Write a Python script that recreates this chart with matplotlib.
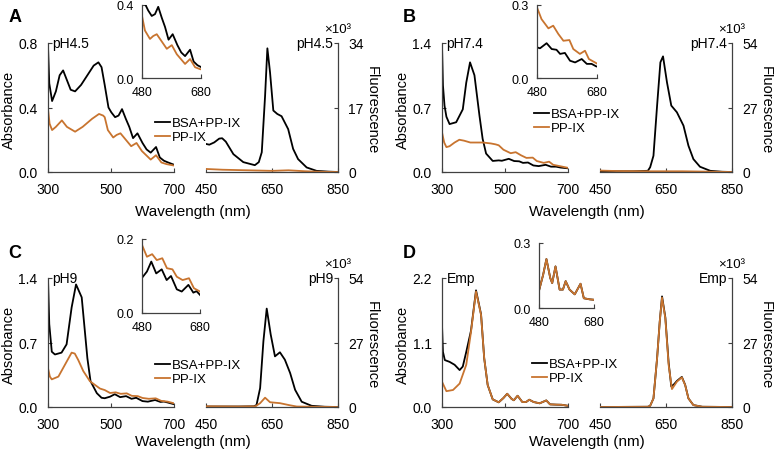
import matplotlib
matplotlib.use("Agg")
import matplotlib.pyplot as plt

plt.rcParams["font.family"] = ["Liberation Sans", "DejaVu Sans"]

W, H = 774, 452
BLACK = "#000000"
ORANGE = "#C8742F"
SPINE = "#404040"

# ── data ────────────────────────────────────────────────────────────────────
# panel A, pH4.5
absA_wl_blk = [300, 304, 313, 325, 337, 348, 360, 372, 386, 405, 425, 445, 460, 470, 480, 492,
               501, 513, 524, 535, 547, 558, 570, 584, 600, 613, 626, 643, 655, 668, 680, 700]
absA_blk = [0.78, 0.55, 0.44, 0.50, 0.60, 0.63, 0.57, 0.51, 0.50, 0.54, 0.60, 0.66, 0.68, 0.65, 0.54, 0.40,
            0.37, 0.34, 0.35, 0.39, 0.33, 0.28, 0.21, 0.24, 0.18, 0.14, 0.12, 0.155, 0.09, 0.07, 0.06, 0.045]
absA_wl_org = [300, 305, 313, 325, 344, 360, 386, 410, 440, 462, 475, 480, 490, 507, 518, 530,
               547, 564, 581, 598, 626, 643, 660, 676, 700]
absA_org = [0.39, 0.30, 0.26, 0.28, 0.32, 0.28, 0.25, 0.28, 0.33, 0.36, 0.35, 0.34, 0.26, 0.214, 0.23, 0.24,
            0.20, 0.16, 0.18, 0.13, 0.077, 0.104, 0.059, 0.049, 0.04]
flA_wl_blk = [450, 460, 475, 490, 499, 510, 533, 563, 598, 610, 619, 629, 636, 644, 654, 666,
              679, 699, 714, 729, 755, 785, 820, 850]
flA_blk = [7.4, 7.2, 7.8, 8.8, 8.9, 8.0, 4.7, 2.6, 1.8, 2.6, 5.2, 20.0, 32.6, 26.3, 16.2, 15.3,
           14.7, 11.3, 6.1, 3.4, 1.2, 0.3, 0.1, 0.0]
flA_wl_org = [450, 500, 550, 600, 650, 700, 750, 800, 850]
flA_org = [0.8, 0.6, 0.5, 0.4, 0.3, 0.45, 0.2, 0.05, 0.0]

# panel B, pH7.4
absB_wl_blk = [300, 303, 308, 314, 324, 345, 366, 377, 389, 403, 419, 429, 440, 461, 480, 490,
               512, 529, 545, 557, 573, 590, 607, 629, 646, 662, 677, 700]
absB_blk = [1.37, 0.94, 0.72, 0.60, 0.52, 0.54, 0.68, 0.97, 1.19, 1.05, 0.61, 0.36, 0.20, 0.12, 0.126, 0.122,
            0.143, 0.119, 0.116, 0.099, 0.103, 0.071, 0.064, 0.078, 0.058, 0.058, 0.048, 0.04]
absB_wl_org = [300, 307, 314, 324, 340, 355, 370, 390, 430, 455, 470, 480, 495, 518, 534, 551,
               568, 588, 601, 623, 640, 653, 679, 700]
absB_org = [0.43, 0.32, 0.27, 0.28, 0.32, 0.35, 0.34, 0.32, 0.32, 0.31, 0.30, 0.29, 0.242, 0.204, 0.215, 0.181,
            0.153, 0.156, 0.119, 0.099, 0.112, 0.078, 0.060, 0.045]
flB_wl_blk = [450, 550, 595, 602, 612, 623, 633, 641, 653, 666, 683, 703, 718, 733, 753, 784, 820, 850]
flB_blk = [0.3, 0.3, 0.5, 2.0, 6.8, 27.8, 45.9, 48.4, 37.5, 27.8, 25.0, 19.4, 11.0, 5.4, 2.2, 0.5, 0.1, 0.0]
flB_wl_org = [450, 500, 600, 650, 700, 750, 800, 850]
flB_org = [0.6, 0.4, 0.3, 0.3, 0.3, 0.2, 0.1, 0.0]

# panel C, pH9
absC_wl_blk = [300, 304, 312, 322, 343, 359, 375, 389, 407, 425, 435, 455, 470, 480, 497, 512,
               529, 548, 565, 580, 600, 617, 640, 657, 668, 680, 700]
absC_blk = [1.39, 0.90, 0.60, 0.57, 0.59, 0.68, 1.08, 1.33, 1.19, 0.53, 0.28, 0.15, 0.10, 0.095, 0.112, 0.139,
            0.107, 0.118, 0.089, 0.100, 0.064, 0.058, 0.076, 0.055, 0.059, 0.049, 0.03]
absC_wl_org = [300, 306, 312, 333, 354, 375, 385, 396, 412, 433, 465, 480, 497, 515, 531, 550,
               566, 585, 600, 620, 642, 659, 680, 700]
absC_org = [0.42, 0.33, 0.30, 0.33, 0.46, 0.59, 0.58, 0.51, 0.39, 0.28, 0.20, 0.184, 0.152, 0.159, 0.143, 0.148,
            0.121, 0.118, 0.098, 0.089, 0.094, 0.067, 0.058, 0.04]
flC_wl_blk = [450, 550, 595, 603, 614, 624, 634, 646, 659, 674, 689, 705, 720, 740, 770, 810, 850]
flC_blk = [0.2, 0.2, 0.3, 0.8, 7.9, 27.6, 41.2, 30.4, 21.2, 22.9, 19.8, 14.2, 7.2, 2.2, 0.5, 0.1, 0.0]
flC_wl_org = [450, 550, 600, 614, 629, 644, 674, 705, 725, 780, 850]
flC_org = [0.3, 0.2, 0.3, 1.6, 3.9, 2.0, 1.6, 0.7, 0.2, 0.1, 0.0]

# panel D, Emp
absD_wl_blk = [300, 303, 309, 324, 340, 356, 366, 377, 392, 408, 424, 434, 445, 461, 480, 495,
               507, 521, 528, 540, 555, 567, 577, 591, 610, 631, 643, 664, 680, 700]
absD_blk = [1.40, 0.94, 0.80, 0.77, 0.72, 0.63, 0.69, 0.94, 1.30, 1.99, 1.58, 0.83, 0.375, 0.13, 0.08, 0.153,
            0.226, 0.138, 0.115, 0.192, 0.085, 0.085, 0.124, 0.085, 0.063, 0.112, 0.045, 0.04, 0.038, 0.02]
absD_wl_org = [300, 314, 335, 356, 377, 392, 408, 424, 434, 445, 461, 480, 495, 507, 521, 528,
               540, 555, 567, 577, 591, 610, 631, 643, 664, 680, 700]
absD_org = [0.43, 0.27, 0.29, 0.40, 0.72, 1.28, 1.97, 1.57, 0.83, 0.375, 0.13, 0.08, 0.153, 0.226, 0.138, 0.115,
            0.192, 0.085, 0.085, 0.124, 0.085, 0.063, 0.112, 0.045, 0.04, 0.038, 0.02]
flD_wl_blk = [450, 595, 602, 612, 623, 631, 638, 648, 658, 666, 675, 683, 698, 708, 718, 733, 760, 850]
flD_blk = [0.0, 0.1, 0.5, 3.6, 20.4, 35.7, 46.3, 37.5, 18.5, 8.6, 9.6, 10.9, 12.6, 9.3, 3.6, 0.8, 0.1, 0.0]
flD_wl_org = [450, 595, 602, 612, 623, 631, 638, 648, 658, 668, 683, 698, 708, 718, 733, 760, 850]
flD_org = [0.0, 0.1, 0.5, 3.6, 20.4, 35.7, 45.8, 37.1, 17.6, 7.5, 10.6, 12.4, 9.2, 3.6, 0.8, 0.1, 0.0]


def rect(x0, y0, x1, y1):
    return [x0 / W, 1 - y1 / H, (x1 - x0) / W, (y1 - y0) / H]


def fpos(x, y):
    return x / W, 1 - y / H


def style(ax, left=True, size=10, pad=7.5):
    for s in ax.spines.values():
        s.set_color(SPINE)
        s.set_linewidth(0.9)
    ax.spines["top"].set_visible(False)
    ax.spines["right" if left else "left"].set_visible(False)
    ax.tick_params(direction="in", length=3, width=0.8, color=SPINE,
                   labelsize=size, pad=pad)
    if not left:
        ax.yaxis.tick_right()
    ax.patch.set_alpha(0)


panels = [
    dict(tag="A", cond="pH4.5", dx=0, dy=0, inset=(142, 6, 201, 79), leg=(155, 118),
         absx=(absA_wl_blk, absA_blk, absA_wl_org, absA_org),
         flx=(flA_wl_blk, flA_blk, flA_wl_org, flA_org),
         ytop=0.8, yt=["0.0", "0.4", "0.8"], ftop=34, itop=0.4, it=["0.0", "0.4"]),
    dict(tag="B", cond="pH7.4", dx=394, dy=0, inset=(537, 6, 597, 79), leg=(534, 109),
         absx=(absB_wl_blk, absB_blk, absB_wl_org, absB_org),
         flx=(flB_wl_blk, flB_blk, flB_wl_org, flB_org),
         ytop=1.4, yt=["0.0", "0.7", "1.4"], ftop=54, itop=0.3, it=["0.0", "0.3"]),
    dict(tag="C", cond="pH9", dx=0, dy=235, inset=(142, 240, 200, 314), leg=(155, 360),
         absx=(absC_wl_blk, absC_blk, absC_wl_org, absC_org),
         flx=(flC_wl_blk, flC_blk, flC_wl_org, flC_org),
         ytop=1.4, yt=["0.0", "0.7", "1.4"], ftop=54, itop=0.2, it=["0.0", "0.2"]),
    dict(tag="D", cond="Emp", dx=394, dy=235, inset=(539, 244, 594, 309), leg=(532, 359),
         absx=(absD_wl_blk, absD_blk, absD_wl_org, absD_org),
         flx=(flD_wl_blk, flD_blk, flD_wl_org, flD_org),
         ytop=2.2, yt=["0.0", "1.1", "2.2"], ftop=54, itop=0.3, it=["0.0", "0.3"]),
]

fig = plt.figure(figsize=(W / 100, H / 100), dpi=100)

for p in panels:
    dx, dy = p["dx"], p["dy"]
    wb, yb, wo, yo = p["absx"]

    # absorbance
    ax = fig.add_axes(rect(48 + dx, 44 + dy, 174 + dx, 173 + dy))
    style(ax, left=True)
    l1, = ax.plot(wb, yb, color=BLACK, lw=1.3, label="BSA+PP-IX")
    l2, = ax.plot(wo, yo, color=ORANGE, lw=1.3, label="PP-IX")
    ax.set_xlim(300, 700)
    ax.set_ylim(0, p["ytop"])
    ax.set_xticks([300, 500, 700])
    ax.set_yticks([0, p["ytop"] / 2, p["ytop"]])
    ax.set_yticklabels(p["yt"])
    ax.text(0.035, 1.0, p["cond"], transform=ax.transAxes, ha="left", va="center", fontsize=10)

    lx, ly = p["leg"]
    ax.legend(handles=[l1, l2], loc="upper left", frameon=False, fontsize=9.5,
              bbox_to_anchor=fpos(lx, ly), bbox_transform=fig.transFigure,
              borderpad=0, borderaxespad=0, handlelength=1.1, handletextpad=0.2, labelspacing=0.15)

    # inset
    x0, y0, x1, y1 = p["inset"]
    axi = fig.add_axes(rect(x0, y0, x1, y1))
    style(axi, left=True, size=9, pad=6)
    axi.plot(wb, yb, color=BLACK, lw=1.3)
    axi.plot(wo, yo, color=ORANGE, lw=1.3)
    axi.set_xlim(480, 680)
    axi.set_ylim(0, p["itop"])
    axi.set_xticks([480, 680])
    axi.set_yticks([0, p["itop"]])
    axi.set_yticklabels(p["it"])

    # fluorescence
    fb, fyb, fo, fyo = p["flx"]
    axf = fig.add_axes(rect(206 + dx, 44 + dy, 338 + dx, 173 + dy))
    style(axf, left=False)
    axf.plot(fb, fyb, color=BLACK, lw=1.3)
    axf.plot(fo, fyo, color=ORANGE, lw=1.3)
    axf.set_xlim(450, 850)
    axf.set_ylim(0, p["ftop"])
    axf.set_xticks([450, 650, 850])
    axf.set_yticks([0, p["ftop"] / 2, p["ftop"]])
    axf.set_yticklabels(["0", f"{p['ftop'] // 2}", f"{p['ftop']}"])
    axf.text(0.965, 1.0, p["cond"], transform=axf.transAxes, ha="right", va="center", fontsize=10)
    axf.text(1.0, 1.11, "×10³", transform=axf.transAxes, ha="center", va="center", fontsize=9.5)

    # axis titles
    fig.text(*fpos(9 + dx, 110 + dy), "Absorbance", rotation=90, ha="center", va="center",
             fontsize=10.5)
    fig.text(*fpos(372 + dx, 110 + dy), "Fluorescence", rotation=-90, ha="center", va="center",
             fontsize=10.5)
    fig.text(*fpos(193 + dx, 212 + dy - (5 if dy else 0)), "Wavelength (nm)", ha="center",
             va="center", fontsize=11)
    fig.text(*fpos(15 + dx, 18 + dy), p["tag"], ha="center", va="center",
             fontsize=13, fontweight="bold")

fig.savefig("out.png", dpi=100)
